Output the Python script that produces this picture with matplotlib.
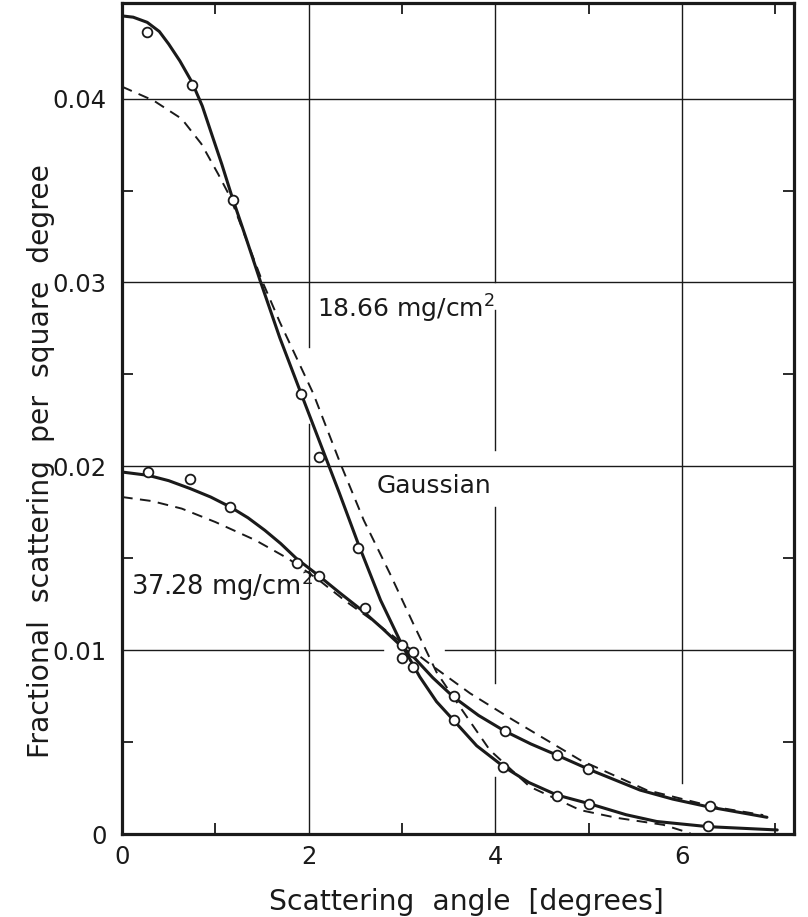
import numpy as np
import matplotlib
matplotlib.use("Agg")
import matplotlib.pyplot as plt

plt.rcParams['font.family'] = ['DejaVu Sans']
plt.rcParams['mathtext.fontset'] = 'dejavusans'

# measured points (open circles)
pts_angle_1866 = [0.27, 0.75, 1.19, 1.92, 2.11, 2.53, 3.00, 3.12, 3.56, 4.08, 4.66, 5.00, 6.28]
pts_frac_1866 = [0.04364, 0.04076, 0.03446, 0.02391, 0.02049, 0.01554, 0.00955, 0.00909,
                 0.00620, 0.00364, 0.00207, 0.00165, 0.00043]
pts_angle_3728 = [0.28, 0.73, 1.16, 1.87, 2.11, 2.60, 3.00, 3.12, 3.56, 4.10, 4.66, 4.99, 6.30]
pts_frac_3728 = [0.01967, 0.01929, 0.01777, 0.01473, 0.01402, 0.01228, 0.01027, 0.00991,
                 0.00750, 0.00560, 0.00430, 0.00355, 0.00152]

# solid curves drawn through the points
fit_angle_1866 = [0.0, 0.12, 0.27, 0.40, 0.50, 0.62, 0.75, 0.86, 0.96, 1.07, 1.18, 1.33, 1.48, 1.69,
                  1.92, 2.12, 2.33, 2.53, 2.77, 3.01, 3.19, 3.37, 3.55, 3.80, 4.09, 4.36, 4.66,
                  5.02, 5.40, 5.73, 6.28, 7.02]
fit_frac_1866 = [0.0445, 0.04443, 0.04415, 0.04365, 0.04297, 0.04205, 0.04089, 0.03960, 0.03808,
                 0.03642, 0.03464, 0.03240, 0.03010, 0.02700, 0.02394, 0.02130, 0.01853, 0.01580,
                 0.01272, 0.01018, 0.00855, 0.00720, 0.00620, 0.00480, 0.00366, 0.00280, 0.00212,
                 0.00163, 0.00105, 0.00068, 0.00040, 0.00022]
fit_angle_3728 = [0.0, 0.28, 0.50, 0.73, 0.95, 1.16, 1.35, 1.53, 1.70, 1.87, 2.10, 2.33, 2.57, 2.79,
                  3.00, 3.12, 3.33, 3.55, 3.82, 4.10, 4.38, 4.66, 5.02, 5.55, 5.90, 6.28, 6.91]
fit_frac_3728 = [0.01969, 0.01951, 0.01922, 0.01879, 0.01833, 0.01779, 0.01720, 0.01652, 0.01580,
                 0.01498, 0.01408, 0.01313, 0.01217, 0.01118, 0.01018, 0.00965, 0.00850, 0.00746,
                 0.00645, 0.00560, 0.00490, 0.00429, 0.00348, 0.00239, 0.00190, 0.00148, 0.00091]

# dashed Gaussian curves
gauss_angle_1866 = [0.0, 0.34, 0.64, 0.85, 1.03, 1.16, 1.32, 1.50, 1.69, 1.87, 2.05, 2.34, 2.59,
                    2.87, 3.12, 3.37, 3.62, 3.94, 4.37, 4.91, 5.30, 5.80, 6.09]
gauss_frac_1866 = [0.04065, 0.03989, 0.03890, 0.03754, 0.03590, 0.03464, 0.03250, 0.03010, 0.02785,
                   0.02590, 0.02395, 0.02015, 0.01707, 0.01417, 0.01145, 0.00880, 0.00692, 0.00457,
                   0.00257, 0.00130, 0.00088, 0.00050, 0.00004]
gauss_angle_3728 = [0.0, 0.32, 0.64, 1.00, 1.43, 1.78, 2.10, 2.40, 2.69, 3.00, 3.34, 3.73, 4.19,
                    4.91, 5.62, 6.34, 6.87]
gauss_frac_3728 = [0.01833, 0.01811, 0.01770, 0.01697, 0.01598, 0.01498, 0.01385, 0.01265, 0.01160,
                   0.01040, 0.00909, 0.00765, 0.00620, 0.00402, 0.00239, 0.00148, 0.00103]

xticks = [0, 2, 4, 6]
yticks = [0, 0.01, 0.02, 0.03, 0.04]
ytick_labels = ["0", "0.01", "0.02", "0.03", "0.04"]

fig = plt.figure(figsize=(8.08, 9.17), dpi=100)
ax = fig.add_axes([0.151, 0.0905, 0.8317, 0.9062])

# hand-drawn grid with the gaps left in the original
ink = "#1a1a1a"
vgrid = [(2, 0.0, 0.0223), (2, 0.0265, 0.046), (4, 0.0, 0.0031), (4, 0.0082, 0.0178),
         (4, 0.0209, 0.0285), (4, 0.0300, 0.046), (6, 0.0028, 0.046)]
hgrid = [(0.01, 0.0, 2.80), (0.01, 3.46, 7.3), (0.02, 0.0, 7.3), (0.03, 0.0, 7.3), (0.04, 0.0, 7.3)]
for x, y0, y1 in vgrid:
    ax.plot([x, x], [y0, y1], color=ink, lw=1.0, zorder=1)
for y, x0, x1 in hgrid:
    ax.plot([x0, x1], [y, y], color=ink, lw=1.0, zorder=1)

dash = (0, (5.5, 3.8))
ax.plot(gauss_angle_1866, gauss_frac_1866, color=ink, lw=1.4, ls=dash, zorder=2)
ax.plot(gauss_angle_3728, gauss_frac_3728, color=ink, lw=1.4, ls=dash, zorder=2)
ax.plot(fit_angle_1866, fit_frac_1866, color=ink, lw=2.2, zorder=3, solid_capstyle='round')
ax.plot(fit_angle_3728, fit_frac_3728, color=ink, lw=2.2, zorder=3, solid_capstyle='round')

mk = dict(ls='none', marker='o', ms=7.0, mfc='white', mec=ink, mew=1.3, zorder=4)
ax.plot(pts_angle_1866, pts_frac_1866, **mk)
ax.plot(pts_angle_3728, pts_frac_3728, **mk)

ax.text(2.09, 0.0281, "18.66 mg/cm$^{2}$", fontsize=18, ha='left', va='baseline', color=ink)
ax.text(2.73, 0.01855, "Gaussian", fontsize=18, ha='left', va='baseline', color=ink)
ax.text(0.096, 0.0130, "37.28 mg/cm$^{2}$", fontsize=18.5, ha='left', va='baseline', color=ink)

ax.set_xlim(0, 7.2)
ax.set_ylim(0, 0.0452)

ax.set_xticks(xticks)
ax.set_yticks(yticks, labels=ytick_labels)
ax.set_xticks([1, 3, 5, 7], minor=True)
ax.set_yticks([0.005, 0.015, 0.025, 0.035], minor=True)
ax.tick_params(which='major', length=0, labelsize=17.5, colors=ink)
ax.tick_params(axis='x', which='major', pad=8)
ax.tick_params(axis='y', which='major', pad=11)
ax.tick_params(which='minor', direction='in', length=8, width=1.3, color=ink,
               top=True, right=True)

for s in ax.spines.values():
    s.set_linewidth(2.3)
    s.set_color(ink)

ax.set_xlabel("Scattering  angle  [degrees]", fontsize=20.3, color=ink)
ax.xaxis.set_label_coords(0.513, -0.0915)
ax.xaxis.label.set_va('baseline')
ax.set_ylabel("Fractional  scattering  per  square  degree", fontsize=20.3, color=ink)
ax.yaxis.set_label_coords(-0.121, 0.449)
ax.yaxis.label.set_va('center')

fig.savefig("out.png", dpi=100)
